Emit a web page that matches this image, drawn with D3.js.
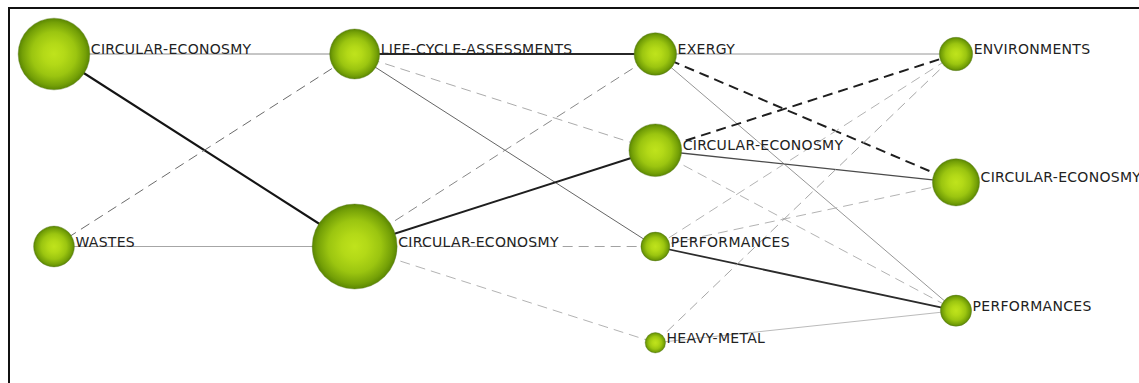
<!DOCTYPE html>
<html>
<head>
<meta charset="utf-8">
<script src="https://cdn.jsdelivr.net/npm/d3@7/dist/d3.min.js"></script>
<style>
  html, body { margin: 0; padding: 0; background: #fff; }
  svg { display: block; }
</style>
</head>
<body>
<script>
// Thematic evolution map: themes per period, linked across consecutive periods.
const themeNames   = ["CIRCULAR-ECONOSMY", "WASTES",
                      "LIFE-CYCLE-ASSESSMENTS", "CIRCULAR-ECONOSMY",
                      "EXERGY", "CIRCULAR-ECONOSMY", "PERFORMANCES", "HEAVY-METAL",
                      "ENVIRONMENTS", "CIRCULAR-ECONOSMY", "PERFORMANCES"];
const themePeriods = [0, 0, 1, 1, 2, 2, 2, 2, 3, 3, 3];
const themeSizes   = [37, 12, 18, 52, 13, 20, 6, 3, 8, 16, 7];

// Links between themes (indices into the arrays above).
// kind "main": share the main theme item (solid); "shared": share other items (dashed).
const linkSources = [0, 0, 1, 1,   2, 2, 2, 3, 3, 3, 3,   4, 4, 4, 5, 5, 5, 6, 6, 6, 7, 7];
const linkTargets = [2, 3, 2, 3,   4, 5, 6, 4, 5, 6, 7,   8, 9, 10, 8, 9, 10, 8, 9, 10, 8, 10];
const linkKinds   = ["main", "main", "shared", "main",
                     "main", "shared", "main", "shared", "main", "shared", "shared",
                     "main", "shared", "main", "shared", "main", "shared",
                     "shared", "shared", "main", "shared", "main"];
const linkWeights = [0.38, 1.0, 0.55, 0.25,
                     0.9, 0.22, 0.58, 0.4, 0.95, 0.27, 0.18,
                     0.33, 0.95, 0.33, 0.95, 0.72, 0.18,
                     0.18, 0.18, 0.88, 0.25, 0.14];

const W = 1139, H = 383;
const svg = d3.select("body").append("svg").attr("width", W).attr("height", H);

const defs = svg.append("defs");
const grad = defs.append("radialGradient").attr("id", "ball")
  .attr("cx", "50%").attr("cy", "50%").attr("r", "50%");
[["0%", "#bfe31c"], ["30%", "#b3d917"], ["62%", "#9bc510"], ["88%", "#74a007"], ["100%", "#5a8602"]]
  .forEach(([o, c]) => grad.append("stop").attr("offset", o).attr("stop-color", c));

// Frame
svg.append("rect").attr("x", 9).attr("y", 8).attr("width", 1200).attr("height", 400)
  .attr("fill", "none").attr("stroke", "#111").attr("stroke-width", 2);

// Scales
const x = d3.scaleLinear().domain([0, 3]).range([54, 956]);
const r = d3.scaleSqrt().domain([0, d3.max(themeSizes)]).range([0, 42.5]);
const strokeColor = d3.scaleLinear().domain([0, 1]).range(["#d6d6d6", "#141414"]);
const strokeWidth = d3.scaleLinear().domain([0, 0.6, 1]).range([1, 1, 2.1]).clamp(true);

// Vertical placement: themes of a period are spread evenly down the column
const counts = d3.rollup(themePeriods, v => v.length, d => d);
const rank = themePeriods.map((p, i) => themePeriods.slice(0, i).filter(q => q === p).length);
const nodes = themeNames.map((name, i) => {
  const n = counts.get(themePeriods[i]);
  const y = d3.scaleLinear().domain([0, n]).range([54, 439]);
  return { name, period: themePeriods[i], size: themeSizes[i], x: x(themePeriods[i]), y: y(rank[i]) };
});

const links = linkSources.map((s, i) => ({
  source: nodes[s], target: nodes[linkTargets[i]], kind: linkKinds[i], weight: linkWeights[i]
}));

svg.append("g").selectAll("line").data(links).join("line")
  .attr("x1", d => d.source.x).attr("y1", d => d.source.y)
  .attr("x2", d => d.target.x).attr("y2", d => d.target.y)
  .attr("stroke", d => strokeColor(d.weight))
  .attr("stroke-width", d => strokeWidth(d.weight))
  .attr("stroke-dasharray", d => d.kind === "shared" ? "10,6" : null);

svg.append("g").selectAll("circle").data(nodes).join("circle")
  .attr("cx", d => d.x).attr("cy", d => d.y).attr("r", d => r(d.size))
  .attr("fill", "url(#ball)")
  .attr("stroke", "rgba(95,125,40,0.5)").attr("stroke-width", 0.8);

svg.append("g").selectAll("text").data(nodes).join("text")
  .attr("x", d => d.x + r(d.size) + 1)
  .attr("y", d => d.y)
  .attr("font-family", "'DejaVu Sans', Verdana, sans-serif")
  .attr("font-size", 14)
  .attr("letter-spacing", "0.3px")
  .attr("fill", "#222")
  .text(d => d.name);
</script>
</body>
</html>
